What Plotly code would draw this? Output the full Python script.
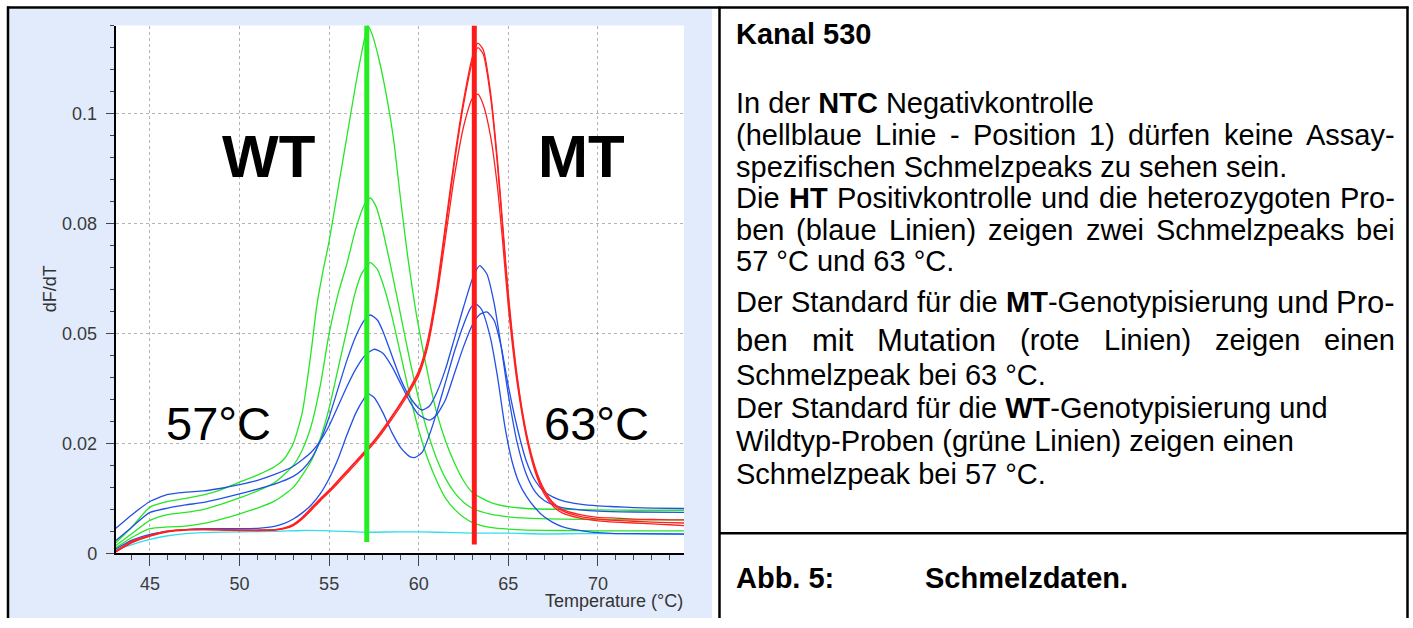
import plotly.graph_objects as go

W, H = 1413, 628

# ---------------- data (dF/dT values in 1/1000 units) ----------------
ntc_T = [43.1, 44, 45, 46, 47, 48, 50, 52, 53.5, 55, 57, 59, 61, 63, 65, 67, 69, 71, 73, 74.8]
ntc_v = [0.8, 2.0, 3.2, 4.0, 4.5, 4.7, 4.9, 5.0, 5.2, 5.1, 4.8, 4.9, 4.8, 4.6, 4.6, 4.4, 4.5, 4.5, 4.4, 4.3]

mt_T = [43.1, 44, 45, 46, 47, 48, 49, 50, 51, 52, 52.5, 53, 53.5, 54, 54.5, 55, 55.5, 56, 56.5, 57,
        57.5, 58, 58.5, 59, 59.5, 60, 60.5, 61, 61.5, 62, 62.5, 63, 63.3, 63.6, 64, 64.4, 64.7, 65, 65.5, 66,
        66.5, 67, 67.5, 68, 69, 70, 71, 72, 73, 74, 74.8]
mt1_v = [0.4, 2.6, 4.0, 5.0, 5.4, 5.5, 5.4, 5.3, 5.3, 5.4, 5.8, 6.6, 8.2, 10.3, 12.4, 14.4, 16.6, 18.8, 21.0, 23.3,
         25.6, 28.3, 31.2, 34.3, 37.6, 41.5, 48.5, 60, 75, 90, 103, 113, 116, 114.5, 105, 89, 74, 59, 40, 27.5,
         19.5, 14.5, 11.5, 10.0, 8.8, 8.2, 8.0, 7.8, 7.7, 7.6, 7.6]
mt2_v = [0.5, 2.8, 4.1, 5.1, 5.4, 5.4, 5.4, 5.3, 5.2, 5.4, 5.7, 6.5, 8.0, 10.0, 12.2, 14.2, 16.4, 18.6, 20.8, 23.0,
         25.4, 28.0, 31.0, 34.0, 37.3, 41.0, 47.5, 59, 74, 89, 102, 112, 115, 113.5, 104, 88, 73, 58, 39.5, 27,
         19, 14, 11.2, 9.7, 8.4, 7.8, 7.5, 7.3, 7.1, 7.0, 6.9]
mt3_v = [0.3, 2.4, 3.9, 4.9, 5.3, 5.4, 5.3, 5.2, 5.2, 5.3, 5.6, 6.3, 7.8, 9.8, 11.9, 13.9, 16.0, 18.2, 20.4, 22.7,
         25.0, 27.6, 30.5, 33.5, 36.8, 40.5, 47, 58, 72, 86, 97, 103.5, 104.4, 102, 95, 83, 70, 56, 38.5, 26.5,
         18.5, 13.5, 10.7, 9.2, 8.0, 7.4, 7.1, 6.9, 6.7, 6.5, 6.3]

wt1_T = [43.1, 44, 45, 46, 47, 48, 49, 50, 51, 52, 52.5, 53, 53.5, 54, 54.3, 54.6, 55, 55.5, 56, 56.5,
         57, 57.15, 57.4, 57.8, 58.2, 58.6, 59, 59.4, 59.8, 60.2, 60.6, 61, 61.5, 62, 62.5, 63, 64, 65, 66, 68,
         70, 72, 74.8]
wt1_v = [2.4, 6.0, 10.5, 11.8, 12.5, 13.3, 14.5, 16.2, 17.8, 19.8, 21.5, 25, 32, 46, 56, 63, 71, 83, 95, 107,
         117.5, 120, 118, 112, 104, 94, 80, 67, 56, 47, 39, 32, 25.5, 20.5, 16.5, 13.8, 11.6, 10.6, 10.2, 10.0,
         9.9, 9.8, 9.8]
wt2_T = [43.1, 44, 45, 46, 47, 48, 49, 50, 51, 52, 53, 53.5, 54, 54.5, 55, 55.5, 56, 56.5, 57, 57.3,
         57.6, 57.9, 58.5, 59, 59.5, 60, 60.5, 61, 61.5, 62, 62.5, 63, 64, 65, 66, 68, 70, 72, 74.8]
wt2_v = [1.8, 4.5, 7.5, 8.8, 9.3, 10.0, 11.2, 12.6, 14.2, 16.2, 20, 23.5, 29, 38, 50, 59, 66, 74, 79.5, 80.8,
         79, 75, 64, 54, 44, 35, 27.5, 21.5, 17, 13.8, 11.6, 10.2, 8.9, 8.3, 8.0, 7.8, 7.7, 7.6, 7.6]
wt3_T = [43.1, 44, 45, 46, 47, 48, 49, 50, 51, 52, 53, 54, 54.5, 55, 55.5, 56, 56.4, 56.8, 57.3, 57.7,
         58.1, 58.5, 59, 59.5, 60, 60.5, 61, 61.5, 62, 62.5, 63, 63.5, 64, 65, 66, 68, 70, 72, 74.8]
wt3_v = [1.3, 3.6, 5.6, 6.0, 6.2, 6.8, 7.8, 9.0, 10.3, 12.0, 15.0, 21, 26, 33, 42, 51, 58.5, 63.5, 66.1, 64.5,
         60, 54, 45, 36, 28, 21.5, 16.5, 12.5, 10.0, 8.2, 7.0, 6.3, 5.9, 5.5, 5.3, 5.2, 5.1, 5.1, 5.1]

ht1_T = [43.1, 44, 45, 46, 47, 48, 49, 50, 51, 52, 53, 54, 54.5, 55, 55.5, 56, 56.5, 57, 57.5, 58,
         58.5, 59, 59.5, 60, 60.6, 61, 61.5, 62, 62.5, 63, 63.4, 63.8, 64.2, 64.6, 65, 65.5, 66, 66.5, 67, 67.5,
         68, 69, 70, 71, 72, 73, 74.8]
ht1_v = [5.7, 8.8, 11.8, 13.4, 13.9, 14.2, 14.8, 15.6, 16.6, 18.0, 19.8, 23, 25.5, 29, 33.5, 38, 42, 45, 46.4, 45.5,
         42.5, 38.5, 34.5, 31.5, 30.3, 31.5, 35, 41, 47, 52, 54.3, 54.9, 53, 47, 38, 28.5, 21, 16.5, 14, 12.8,
         12.0, 11.2, 10.8, 10.6, 10.4, 10.3, 10.2]
ht2_T = [43.1, 44, 45, 46, 47, 48, 49, 50, 51, 52, 53, 53.5, 54, 54.5, 55, 55.5, 56, 56.5, 57, 57.3,
         57.7, 58, 58.5, 59, 59.5, 60, 60.2, 60.6, 61, 61.5, 62, 62.5, 63, 63.4, 63.8, 64.2, 64.6, 65, 65.5, 66,
         66.5, 67, 67.5, 68, 69, 70, 72, 74.8]
ht2_v = [2.9, 6.0, 9.3, 10.3, 11.0, 11.6, 12.5, 13.5, 14.6, 15.8, 17.5, 19, 21.5, 25.5, 31, 37.5, 44, 49.5, 53.2, 54.2,
         53, 50.5, 45, 39.5, 35.5, 33, 32.6, 33.5, 36.5, 42, 49, 56, 62.5, 65.4, 63.5, 57, 47, 36, 25, 18,
         14, 12, 11, 10.4, 9.9, 9.6, 9.4, 9.3]
ht3_T = [43.1, 44, 45, 46, 47, 48, 49, 50, 51, 52, 52.5, 53, 53.5, 54, 54.5, 55, 55.5, 56, 56.5, 57,
         57.15, 57.5, 58, 58.5, 59, 59.5, 59.8, 60.2, 60.6, 61, 61.5, 62, 62.5, 62.9, 63.15, 63.5, 64, 64.4, 64.8, 65.2,
         65.6, 66, 66.5, 67, 67.5, 68, 68.7, 69.5, 70, 71, 72, 74.8]
ht3_v = [1.0, 3.0, 4.3, 5.0, 5.4, 5.6, 5.6, 5.6, 5.7, 6.2, 6.8, 7.8, 9.2, 11, 13.5, 17, 21.5, 27, 32, 35.5,
         36.3, 35.5, 32, 27.5, 24, 22, 21.8, 23, 27, 32, 39, 46, 52, 55.8, 56.8, 55.5, 49, 40, 29, 21,
         16, 13, 10.3, 8.3, 7.0, 6.1, 5.4, 4.9, 4.7, 4.5, 4.5, 4.4]

wt_marker_T = 57.1
mt_marker_T = 63.1
wt_marker_v = [2.6, 120]
mt_marker_v = [2.0, 120]

x_ticks = [45, 50, 55, 60, 65, 70]
y_tickvals = [0, 25, 50, 75, 100]
y_ticktext = ["0", "0.02", "0.05", "0.08", "0.1"]

SCALE = 1000.0

# ---------------- helpers ----------------
def px(x):
    return x / W

def py(y):
    return 1 - y / H

FONT = "Liberation Sans, Arial, sans-serif"
GREEN = "#26e626"
BLUE = "#2350e6"
RED = "#ff2020"
CYAN = "#2fe0ea"

fig = go.Figure()

def curve(T, v, color, width=1.3):
    fig.add_trace(go.Scatter(
        x=T, y=[a / SCALE for a in v], mode="lines",
        line=dict(color=color, width=width, shape="spline", smoothing=0.6),
        hoverinfo="skip", showlegend=False))

curve(ntc_T, ntc_v, CYAN)
curve(wt3_T, wt3_v, GREEN)
curve(wt2_T, wt2_v, GREEN)
curve(wt1_T, wt1_v, GREEN)
curve(ht3_T, ht3_v, BLUE)
curve(ht2_T, ht2_v, BLUE)
curve(ht1_T, ht1_v, BLUE)
curve(mt_T, mt3_v, RED)
curve(mt_T, mt2_v, RED)
curve(mt_T, mt1_v, RED)

fig.add_trace(go.Scatter(x=[wt_marker_T, wt_marker_T], y=[a / SCALE for a in wt_marker_v], mode="lines",
                         line=dict(color="#22ee22", width=5), hoverinfo="skip", showlegend=False))
fig.add_trace(go.Scatter(x=[mt_marker_T, mt_marker_T], y=[a / SCALE for a in mt_marker_v], mode="lines",
                         line=dict(color="#ff1a1a", width=5), hoverinfo="skip", showlegend=False))

tickfont = dict(family=FONT, size=18, color="#3a3a3a")
fig.update_layout(
    width=W, height=H, autosize=False,
    margin=dict(l=0, r=0, t=0, b=0),
    paper_bgcolor="white", plot_bgcolor="rgba(0,0,0,0)",
    showlegend=False,
    xaxis=dict(domain=[px(115.5), px(684)], range=[43.08, 74.8],
               tickmode="array", tickvals=x_ticks, ticks="outside", ticklen=11, tickwidth=1,
               tickcolor="#444", showgrid=True, gridcolor="#b4b4b4", griddash="dot", gridwidth=1,
               showline=True, linecolor="black", linewidth=1.5, zeroline=False,
               tickfont=tickfont, ticklabelstandoff=2,
               minor=dict(tickmode="linear", tick0=43, dtick=1, ticks="outside", ticklen=5,
                          tickcolor="#444", showgrid=False)),
    yaxis=dict(domain=[py(562.3), py(26)], range=[0, 0.12],
               tickmode="array", tickvals=[v / SCALE for v in y_tickvals], ticktext=y_ticktext,
               ticks="outside", ticklen=8, tickwidth=1, tickcolor="#444",
               showgrid=True, gridcolor="#b4b4b4", griddash="dot", gridwidth=1,
               showline=True, linecolor="black", linewidth=1.5, zeroline=False,
               tickfont=tickfont, ticklabelstandoff=5,
               minor=dict(tickmode="linear", tick0=0, dtick=0.005, ticks="outside", ticklen=4,
                          tickcolor="#444", showgrid=False)),
)

shapes = [
    dict(type="rect", xref="paper", yref="paper", x0=px(9), x1=px(712), y0=0, y1=py(9),
         fillcolor="#e2ebfb", line=dict(width=0), layer="below"),
    dict(type="rect", xref="paper", yref="paper", x0=px(115.5), x1=px(684), y0=py(562.3), y1=py(26),
         fillcolor="white", line=dict(width=0), layer="below"),
]
def hline(x0, x1, y, w=2.5):
    shapes.append(dict(type="line", xref="paper", yref="paper", x0=px(x0), x1=px(x1), y0=py(y), y1=py(y),
                       line=dict(color="black", width=w)))
def vline(x, y0, y1, w=2.5):
    shapes.append(dict(type="line", xref="paper", yref="paper", x0=px(x), x1=px(x), y0=py(y0), y1=py(y1),
                       line=dict(color="black", width=w)))
hline(7, 1408.5, 7.5)
vline(8, 6.5, 628)
vline(719.5, 6.5, 628)
vline(1407.5, 6.5, 628)
hline(719.5, 1407.5, 542)
fig.update_layout(shapes=shapes)

# ---------------- chart annotations ----------------
def ann(x, y, text, size, xanchor="center", color="black", family=FONT, textangle=0, ref="paper"):
    fig.add_annotation(x=x, y=y, xref=ref, yref=ref, text=text, showarrow=False,
                       xanchor=xanchor, yanchor="middle", borderpad=0, textangle=textangle,
                       font=dict(family=family, size=size, color=color))

ann(px(268), py(159), "<b>WT</b>", 60)
ann(px(581), py(159), "<b>MT</b>", 60)
ann(px(218), py(430), "57°C", 47)
ann(px(596), py(430), "63°C", 47)
ann(px(684), py(611), "Temperature (°C)", 18, xanchor="right", color="#333")
ann(px(50), py(294), "dF/dT", 18, color="#333", textangle=-90)

# ---------------- right-hand text ----------------
AR = {' ': 278, '(': 333, ')': 333, '-': 333, '.': 278, ':': 278, '°': 400,
      'A': 667, 'C': 722, 'D': 722, 'G': 778, 'H': 722, 'L': 556, 'M': 833, 'N': 722, 'P': 667,
      'S': 667, 'T': 611, 'W': 944,
      'a': 556, 'b': 556, 'c': 500, 'd': 556, 'e': 556, 'f': 278, 'g': 556, 'h': 556, 'i': 222,
      'k': 500, 'l': 222, 'm': 833, 'n': 556, 'o': 556, 'p': 556, 'r': 333, 's': 500, 't': 278,
      'u': 556, 'v': 500, 'w': 722, 'y': 500, 'z': 500, 'ü': 556}
ARB = {'M': 833, 'T': 611, 'H': 722, 'W': 944, 'N': 722, 'C': 722}

def text_width(s, size):
    bold = False
    total = 0
    i = 0
    while i < len(s):
        if s.startswith("<b>", i):
            bold = True; i += 3; continue
        if s.startswith("</b>", i):
            bold = False; i += 4; continue
        c = s[i]
        w = (ARB.get(c) if bold else None) or AR.get(c, 556)
        total += w
        i += 1
    return total * size / 1000.0

LEFT, RIGHT = 735, 1394
BASE = 29

def left_line(y, text, size=BASE):
    fig.add_annotation(x=px(LEFT), y=py(y), xref="paper", yref="paper", text=text, showarrow=False,
                       xanchor="left", yanchor="middle", align="left", borderpad=0,
                       font=dict(family=FONT, size=size, color="black"))

def justified(y, words):
    widths = [text_width(w, s) for w, s in words]
    gap = (RIGHT - LEFT - sum(widths)) / (len(words) - 1)
    x = LEFT
    for (w, s), wd in zip(words, widths):
        fig.add_annotation(x=px(x), y=py(y), xref="paper", yref="paper", text=w, showarrow=False,
                           xanchor="left", yanchor="middle", borderpad=0,
                           font=dict(family=FONT, size=s, color="black"))
        x += wd + gap

def words_of(text, size=BASE):
    return [(w, size) for w in text.split(" ")]

left_line(35, "<b>Kanal 530</b>")
left_line(105, "In der <b>NTC</b> Negativkontrolle")
justified(137.5, words_of("(hellblaue Linie - Position 1) dürfen keine Assay-"))
left_line(169.5, "spezifischen Schmelzpeaks zu sehen sein.")
justified(201.5, words_of("Die <b>HT</b> Positivkontrolle und die heterozygoten Pro-"))
justified(233.5, words_of("ben (blaue Linien) zeigen zwei Schmelzpeaks bei"))
left_line(265.5, "57 °C und 63 °C.")
justified(307, words_of("Der Standard für die <b>MT</b>-Genotypisierung") + words_of("und Pro-", 31))
justified(346, words_of("ben mit Mutation", 31) + words_of("(rote Linien) zeigen einen"))
left_line(381, "Schmelzpeak bei 63 °C.")
left_line(414.5, "Der Standard für die <b>WT</b>-Genotypisierung und")
left_line(448, "Wildtyp-Proben (grüne Linien) zeigen einen")
left_line(481.5, "Schmelzpeak bei 57 °C.")
left_line(587, "<b>Abb. 5:</b>")
fig.add_annotation(x=px(924), y=py(587), xref="paper", yref="paper", text="<b>Schmelzdaten.</b>",
                   showarrow=False, xanchor="left", yanchor="middle", borderpad=0,
                   font=dict(family=FONT, size=BASE, color="black"))

fig.write_html("out.html")
